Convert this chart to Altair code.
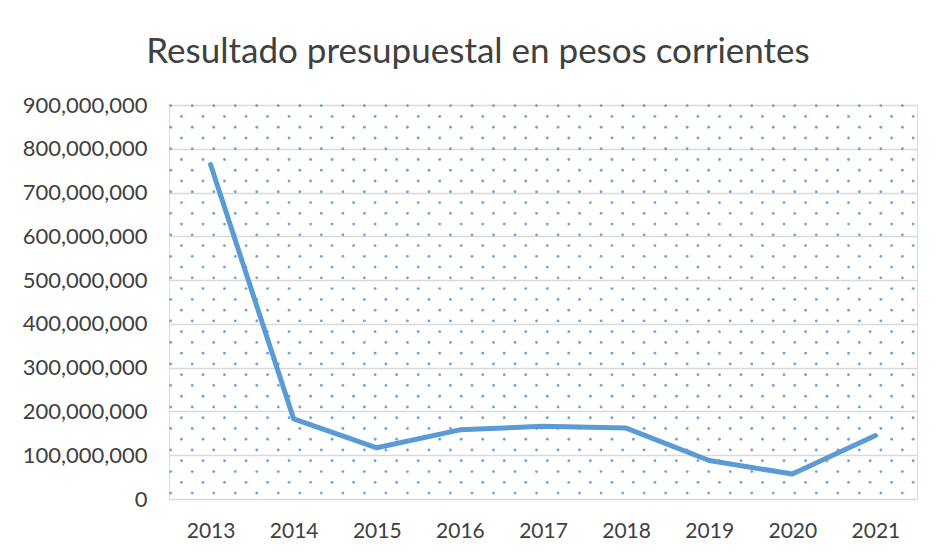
import altair as alt
import pandas as pd

years = ["2013", "2014", "2015", "2016", "2017", "2018", "2019", "2020", "2021"]
values = [764000000, 183000000, 117000000, 158000000, 166000000, 162000000, 88000000, 57000000, 145000000]
y_ticks = [0, 100000000, 200000000, 300000000, 400000000, 500000000, 600000000, 700000000, 800000000, 900000000]

W, H = 748, 394
FONT = "Lato"
TXT = "#404040"
BLUE = "#5B9BD5"

df = pd.DataFrame({"year": years, "value": values})

# decorative dotted background pattern (built by Vega-Lite transforms)
NCOL, NROW, STEP = 70, 37, 10.76
dots = (
    alt.Chart(alt.sequence(0, NCOL * NROW, as_="i"))
    .transform_calculate(col=f"datum.i % {NCOL}", row=f"floor(datum.i / {NCOL})")
    .transform_filter("(datum.col + datum.row) % 2 == 0")
    .transform_calculate(px=f"1.7 + datum.col * {STEP}", py=f"{H} - 0.7 - datum.row * {STEP}")
    .mark_circle(size=8, color=BLUE, opacity=0.9)
    .encode(
        x=alt.X("px:Q", scale=alt.Scale(domain=[0, W], nice=False, zero=False), axis=None),
        y=alt.Y("py:Q", scale=alt.Scale(domain=[0, H], nice=False, zero=False), axis=None),
    )
)

line = (
    alt.Chart(df)
    .mark_line(color=BLUE, strokeWidth=5, strokeCap="round", strokeJoin="round")
    .encode(
        x=alt.X(
            "year:N",
            sort=years,
            scale=alt.Scale(type="point", padding=0.5),
            axis=alt.Axis(
                title=None, labelAngle=0, ticks=False, tickSize=0, domain=False, grid=False,
                labelFont=FONT, labelFontSize=21, labelColor=TXT, labelPadding=21,
            ),
        ),
        y=alt.Y(
            "value:Q",
            scale=alt.Scale(domain=[0, 900000000], nice=False),
            axis=alt.Axis(
                title=None, values=y_ticks, format=",d", ticks=False, tickSize=0, domain=False,
                grid=True, gridColor="#d9d9d9", gridWidth=1.6,
                labelFont=FONT, labelFontSize=22, labelColor=TXT, labelPadding=22,
            ),
        ),
    )
)

chart = (
    alt.layer(dots, line)
    .resolve_scale(x="independent", y="independent")
    .properties(
        width=W,
        height=H,
        autosize=alt.AutoSizeParams(type="none"),
        padding={"left": 161, "top": 97, "right": 19, "bottom": 46},
        title=alt.TitleParams(
            "Resultado presupuestal en pesos corrientes",
            font=FONT, fontSize=35, fontWeight="normal", color=TXT,
            anchor="middle", dx=-65, offset=24,
        ),
    )
    .configure_view(stroke=None)
    .configure(background="white")
)

chart.save("out.html", embed_options={"renderer": "svg", "actions": False})
